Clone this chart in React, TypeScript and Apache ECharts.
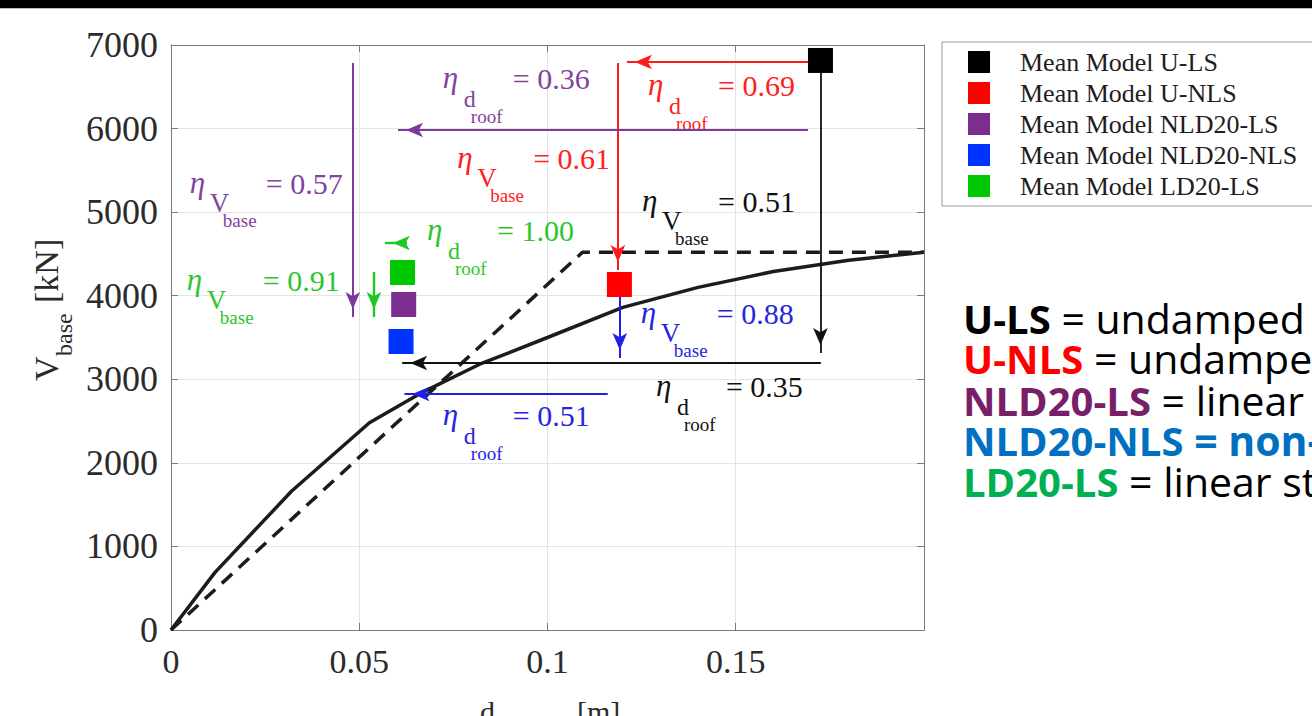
import React, { useEffect, useRef } from "react";
import * as echarts from "echarts";

// ---------- data ----------
const xTickLabels = ["0", "0.05", "0.1", "0.15", ""];
const yTickLabels = ["0", "1000", "2000", "3000", "4000", "5000", "6000", "7000"];

// pushover curve (solid) and bilinear idealisation (dashed) [d_roof (m), V_base (kN)]
const solidCurve: [number, number][] = [
  [0, 0], [0.0117, 690], [0.032, 1660], [0.0527, 2480], [0.067, 2850], [0.082, 3180],
  [0.1, 3500], [0.12, 3860], [0.14, 4100], [0.16, 4290], [0.18, 4425], [0.2, 4520],
];
const dashedCurve: [number, number][] = [[0, 0], [0.1093, 4520], [0.2, 4520]];

const modelNames = [
  "Mean Model U-LS",
  "Mean Model U-NLS",
  "Mean Model NLD20-LS",
  "Mean Model NLD20-NLS",
  "Mean Model LD20-LS",
];
const modelColors = ["#000000", "#ff0000", "#7b2d90", "#0033ff", "#00c800"];
const modelPoints: [number, number][] = [
  [0.1725, 6815],
  [0.1191, 4134],
  [0.0618, 3895],
  [0.0611, 3452],
  [0.0615, 4278],
];

// arrows [from, to] per model
const modelArrows: [number, number][][][] = [
  [[[0.1725, 6815], [0.1725, 3315]], [[0.1726, 3195], [0.0614, 3195]]],
  [[[0.1697, 6797], [0.1211, 6797]], [[0.1187, 6785], [0.1187, 4308]]],
  [[[0.1692, 5983], [0.0603, 5983]], [[0.0483, 6785], [0.0483, 3745]]],
  [[[0.1192, 3985], [0.1192, 3255]], [[0.116, 2824], [0.062, 2824]]],
  [[[0.0627, 4631], [0.0568, 4631]], [[0.0539, 4284], [0.0539, 3745]]],
];
const arrowColors = ["#111111", "#ff1a1a", "#7d3a9a", "#1f1fe8", "#1fc81f"];
const arrowWidths = [1.8, 2, 2, 2, 2.4];

// efficiency annotations: anchor = left / baseline of the eta, in data coords
const annotations: { kind: "d" | "V"; value: string; color: string; at: [number, number] }[] = [
  { kind: "d", value: "= 0.36", color: "#7f449c", at: [0.0722, 6480] },
  { kind: "d", value: "= 0.69", color: "#ff2020", at: [0.1267, 6396] },
  { kind: "V", value: "= 0.61", color: "#ff2020", at: [0.076, 5522] },
  { kind: "V", value: "= 0.57", color: "#7f449c", at: [0.005, 5223] },
  { kind: "d", value: "= 1.00", color: "#2ec42e", at: [0.068, 4661] },
  { kind: "V", value: "= 0.91", color: "#2ec42e", at: [0.0042, 4062] },
  { kind: "V", value: "= 0.51", color: "#111111", at: [0.1251, 5008] },
  { kind: "V", value: "= 0.88", color: "#2525e0", at: [0.1248, 3668] },
  { kind: "d", value: "= 0.35", color: "#111111", at: [0.1288, 2794] },
  { kind: "d", value: "= 0.51", color: "#2525e0", at: [0.0722, 2447] },
];

const keyRows: { tag: string; rest: string; tagColor: string; restColor: string; restBold: boolean }[] = [
  { tag: "U-LS", rest: " = undamped linear", tagColor: "#000000", restColor: "#000000", restBold: false },
  { tag: "U-NLS", rest: " = undamped non-linear", tagColor: "#ff0000", restColor: "#000000", restBold: false },
  { tag: "NLD20-LS", rest: " = linear structure", tagColor: "#772068", restColor: "#000000", restBold: false },
  { tag: "NLD20-NLS", rest: " = non-linear", tagColor: "#0070c0", restColor: "#0070c0", restBold: true },
  { tag: "LD20-LS", rest: " = linear structure", tagColor: "#00b050", restColor: "#000000", restBold: false },
];

const SERIF = '"Liberation Serif", "Times New Roman", serif';
const SANS = '"Open Sans", "Noto Sans", sans-serif';

export default function App() {
  const ref = useRef<HTMLDivElement>(null);

  useEffect(() => {
    if (!ref.current) return;
    const chart = echarts.init(ref.current, undefined, { renderer: "svg" });

    const axisColor = "#7a7a7a";
    const baseAxis = {
      type: "value" as const,
      axisLine: { show: true, onZero: false, lineStyle: { color: axisColor, width: 1 } },
      axisTick: { show: true, inside: true, length: 7, lineStyle: { color: axisColor } },
    };

    const scatterSeries = modelNames.map((name, i) => ({
      type: "scatter" as const,
      name,
      data: [modelPoints[i]],
      symbol: "rect",
      symbolSize: 25,
      itemStyle: { color: modelColors[i], opacity: 1 },
      z: 5,
      silent: true,
      markLine: {
        silent: true,
        symbol: ["none", "arrow"],
        symbolSize: [11, 17],
        symbolOffset: [0, [0, 8]],
        label: { show: false },
        lineStyle: { color: arrowColors[i], width: arrowWidths[i], type: "solid", opacity: 1 },
        itemStyle: { color: arrowColors[i] },
        emphasis: { disabled: true },
        data: modelArrows[i].map((a) => [{ coord: a[0] }, { coord: a[1] }]),
      },
    }));

    chart.setOption({
      animation: false,
      backgroundColor: "#ffffff",
      grid: { left: 171, right: 388, top: 45, bottom: 86, containLabel: false },
      xAxis: [
        {
          ...baseAxis,
          position: "bottom",
          min: 0,
          max: 0.2,
          interval: 0.05,
          axisLabel: {
            formatter: (_v: number, i: number) => xTickLabels[i] ?? "",
            fontFamily: SERIF,
            fontSize: 34,
            color: "#2b2b2b",
            margin: 14,
          },
          splitLine: { show: true, lineStyle: { color: "#e4e4e4", width: 1 } },
        },
        {
          ...baseAxis,
          position: "top",
          min: 0,
          max: 0.2,
          interval: 0.05,
          axisLabel: { show: false },
          splitLine: { show: false },
        },
      ],
      yAxis: [
        {
          ...baseAxis,
          position: "left",
          min: 0,
          max: 7000,
          interval: 1000,
          axisLabel: {
            formatter: (_v: number, i: number) => yTickLabels[i] ?? "",
            fontFamily: SERIF,
            fontSize: 36,
            color: "#2b2b2b",
            margin: 13,
          },
          splitLine: { show: true, lineStyle: { color: "#e4e4e4", width: 1 } },
        },
        {
          ...baseAxis,
          position: "right",
          min: 0,
          max: 7000,
          interval: 1000,
          axisLabel: { show: false },
          splitLine: { show: false },
        },
      ],
      legend: {
        data: modelNames,
        orient: "vertical",
        left: 942,
        top: 42,
        padding: [7, 40, 7, 26],
        itemWidth: 22,
        itemHeight: 22,
        itemGap: 5,
        icon: "rect",
        selectedMode: false,
        borderColor: "#9a9a9a",
        borderWidth: 1,
        backgroundColor: "#ffffff",
        textStyle: {
          fontFamily: SERIF,
          fontSize: 26,
          color: "#1e1e1e",
          padding: [0, 0, 0, 25],
        },
      },
      series: [
        {
          type: "line",
          name: "pushover",
          data: solidCurve,
          symbol: "none",
          lineStyle: { color: "#1c1c1c", width: 3.5 },
          z: 3,
          silent: true,
        },
        {
          type: "line",
          name: "bilinear",
          data: dashedCurve,
          symbol: "none",
          lineStyle: { color: "#1c1c1c", width: 3.5, type: [14, 9] },
          z: 3,
          silent: true,
        },
        ...scatterSeries,
      ],
    });

    // annotations positioned from data coordinates
    const annGroups = annotations.map((a) => {
      const p = chart.convertToPixel({ xAxisIndex: 0, yAxisIndex: 0 }, a.at) as number[];
      const t = (text: string, x: number, baseOff: number, size: number, italic = false) => ({
        type: "text",
        x,
        y: baseOff - 0.34 * size,
        silent: true,
        style: {
          text,
          fontFamily: SERIF,
          fontSize: size,
          fontStyle: italic ? "italic" : "normal",
          fill: a.color,
          align: "left",
          verticalAlign: "middle",
        },
      });
      const children =
        a.kind === "d"
          ? [t("η", 0, 0, 31, true), t("d", 21, 18.5, 24), t("roof", 28, 34.5, 19), t(a.value, 70, 0, 30)]
          : [t("η", 0, 0, 31, true), t("V", 20, 18.5, 27), t("base", 33, 33.5, 19), t(a.value, 76, 0, 30)];
      return { type: "group", x: p[0], y: p[1], silent: true, children };
    });

    const keyTexts = keyRows.map((r, i) => ({
      type: "text",
      x: 963,
      y: [318, 358, 400, 440, 481][i],
      silent: true,
      style: {
        text: `{t|${r.tag}}{r|${r.rest}}`,
        verticalAlign: "middle",
        align: "left",
        rich: {
          t: { fontFamily: SANS, fontSize: 40, lineHeight: 38, fontWeight: "bold", fill: r.tagColor },
          r: { fontFamily: SANS, fontSize: 41, lineHeight: 38, fontWeight: r.restBold ? "bold" : "normal", fill: r.restColor },
        },
      },
    }));

    const axisNameY = {
      type: "group",
      x: 58,
      y: 381,
      rotation: Math.PI / 2,
      silent: true,
      children: [
        { type: "text", x: 0, y: -0.34 * 34, style: { text: "V", fontFamily: SERIF, fontSize: 34, fill: "#2b2b2b", verticalAlign: "middle" } },
        { type: "text", x: 25, y: 14 - 0.34 * 24, style: { text: "base", fontFamily: SERIF, fontSize: 24, fill: "#2b2b2b", verticalAlign: "middle" } },
        { type: "text", x: 78, y: -0.34 * 34, style: { text: "[kN]", fontFamily: SERIF, fontSize: 34, fill: "#2b2b2b", verticalAlign: "middle" } },
      ],
    };
    const axisNameX = {
      type: "group",
      x: 480,
      y: 722,
      silent: true,
      children: [
        { type: "text", x: 0, y: -0.34 * 30, style: { text: "d", fontFamily: SERIF, fontSize: 30, fill: "#2b2b2b", verticalAlign: "middle" } },
        { type: "text", x: 16, y: 13 - 0.34 * 22, style: { text: "roof", fontFamily: SERIF, fontSize: 22, fill: "#2b2b2b", verticalAlign: "middle" } },
        { type: "text", x: 97, y: -0.34 * 30, style: { text: "[m]", fontFamily: SERIF, fontSize: 30, fill: "#2b2b2b", verticalAlign: "middle" } },
      ],
    };

    chart.setOption({
      graphic: [
        { type: "rect", left: 0, top: 0, silent: true, shape: { width: 1312, height: 8 }, style: { fill: "#000000" } },
        { type: "rect", left: 0, top: 8, silent: true, shape: { width: 1312, height: 1 }, style: { fill: "#bdbdbd" } },
        ...annGroups,
        ...keyTexts,
        axisNameY,
        axisNameX,
      ],
    });

    return () => chart.dispose();
  }, []);

  return (
    <div
      ref={ref}
      style={{ position: "fixed", left: 0, top: 0, width: 1312, height: 716, background: "#fff", overflow: "hidden" }}
    />
  );
}
